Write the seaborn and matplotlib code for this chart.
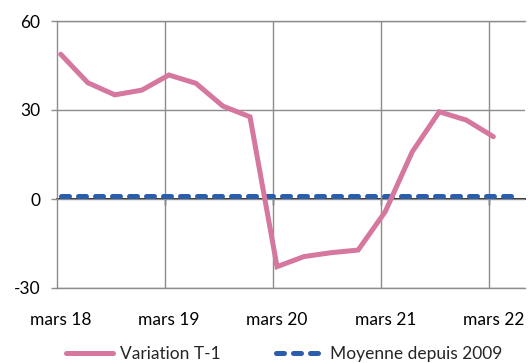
import numpy as np
import pandas as pd
import matplotlib
matplotlib.use("Agg")
import matplotlib.pyplot as plt
import seaborn as sns
from matplotlib.ticker import FixedLocator

# Quarterly change (T-1) and the long-run average since 2009
variation_t1 = [48.8, 39.2, 35.1, 36.7, 41.8, 39.0, 31.3, 27.7, -22.8,
                -19.4, -18.1, -17.2, -4.3, 15.9, 29.4, 26.6, 21.0]
moyenne_2009 = [1.0] * 18
tick_labels = ["mars 18", "mars 19", "mars 20", "mars 21", "mars 22"]
y_ticks = [-30, 0, 30, 60]

sns.set_theme(style="white")
plt.rcParams["font.family"] = ["Lato", "DejaVu Sans"]
plt.rcParams["axes.unicode_minus"] = False

PINK = "#D5779E"
BLUE = "#2A5DAB"
GRID = "#8C8C8C"
FS = 12.5

fig = plt.figure(figsize=(5.32, 3.63), dpi=100)
ax = fig.add_axes([57 / 532, 1 - 288 / 363, 468 / 532, 267 / 363])

df_var = pd.DataFrame({"t": np.arange(len(variation_t1)), "v": variation_t1})
df_moy = pd.DataFrame({"t": np.arange(len(moyenne_2009)), "v": moyenne_2009})

sns.lineplot(data=df_var, x="t", y="v", ax=ax, color=PINK, lw=3.6,
             solid_capstyle="round", solid_joinstyle="miter",
             label="Variation T-1", zorder=4)
sns.lineplot(data=df_moy, x="t", y="v", ax=ax, color=BLUE, lw=3.6,
             linestyle=(0, (1.6, 1.8)), dash_capstyle="round",
             label="Moyenne depuis 2009", zorder=3)

ax.set_xlim(-0.137, 17.17)
ax.set_ylim(-30, 60)
ax.set_xlabel("")
ax.set_ylabel("")

# year boundaries as vertical gridlines
year_bounds = [4 * k - 0.15 for k in range(1, 5)]
ax.set_xticks([0, 4, 8, 12, 16])
ax.set_xticklabels(tick_labels, fontsize=FS, color="black")
ax.xaxis.set_minor_locator(FixedLocator(year_bounds))
ax.tick_params(axis="x", which="both", length=0, pad=17)
ax.grid(False)
ax.xaxis.grid(True, which="minor", color=GRID, lw=1)

ax.set_yticks(y_ticks)
ax.tick_params(axis="y", length=4, width=1, color=GRID, pad=8,
               labelsize=FS, labelcolor="black", left=True)
ax.yaxis.grid(True, color=GRID, lw=1)

for side in ["left", "bottom", "top"]:
    ax.spines[side].set_color(GRID)
    ax.spines[side].set_linewidth(1)
ax.spines["right"].set_visible(False)

# zero axis with small downward ticks
sec = ax.secondary_xaxis(1 / 3)
sec.set_xticks(year_bounds)
sec.tick_params(axis="x", which="both", bottom=True, top=False,
                labelbottom=False, labeltop=False, direction="out",
                length=4, width=1, color="black")
for s in sec.spines.values():
    s.set_color("black")
    s.set_linewidth(1.2)

ax.legend(loc="upper center", bbox_to_anchor=(284 / 532, 1 - 339 / 363),
          bbox_transform=fig.transFigure, ncol=2, frameon=False,
          fontsize=FS, handlelength=2.7, handletextpad=0.4,
          columnspacing=3.2, borderaxespad=0)

fig.savefig("out.png", dpi=100)
